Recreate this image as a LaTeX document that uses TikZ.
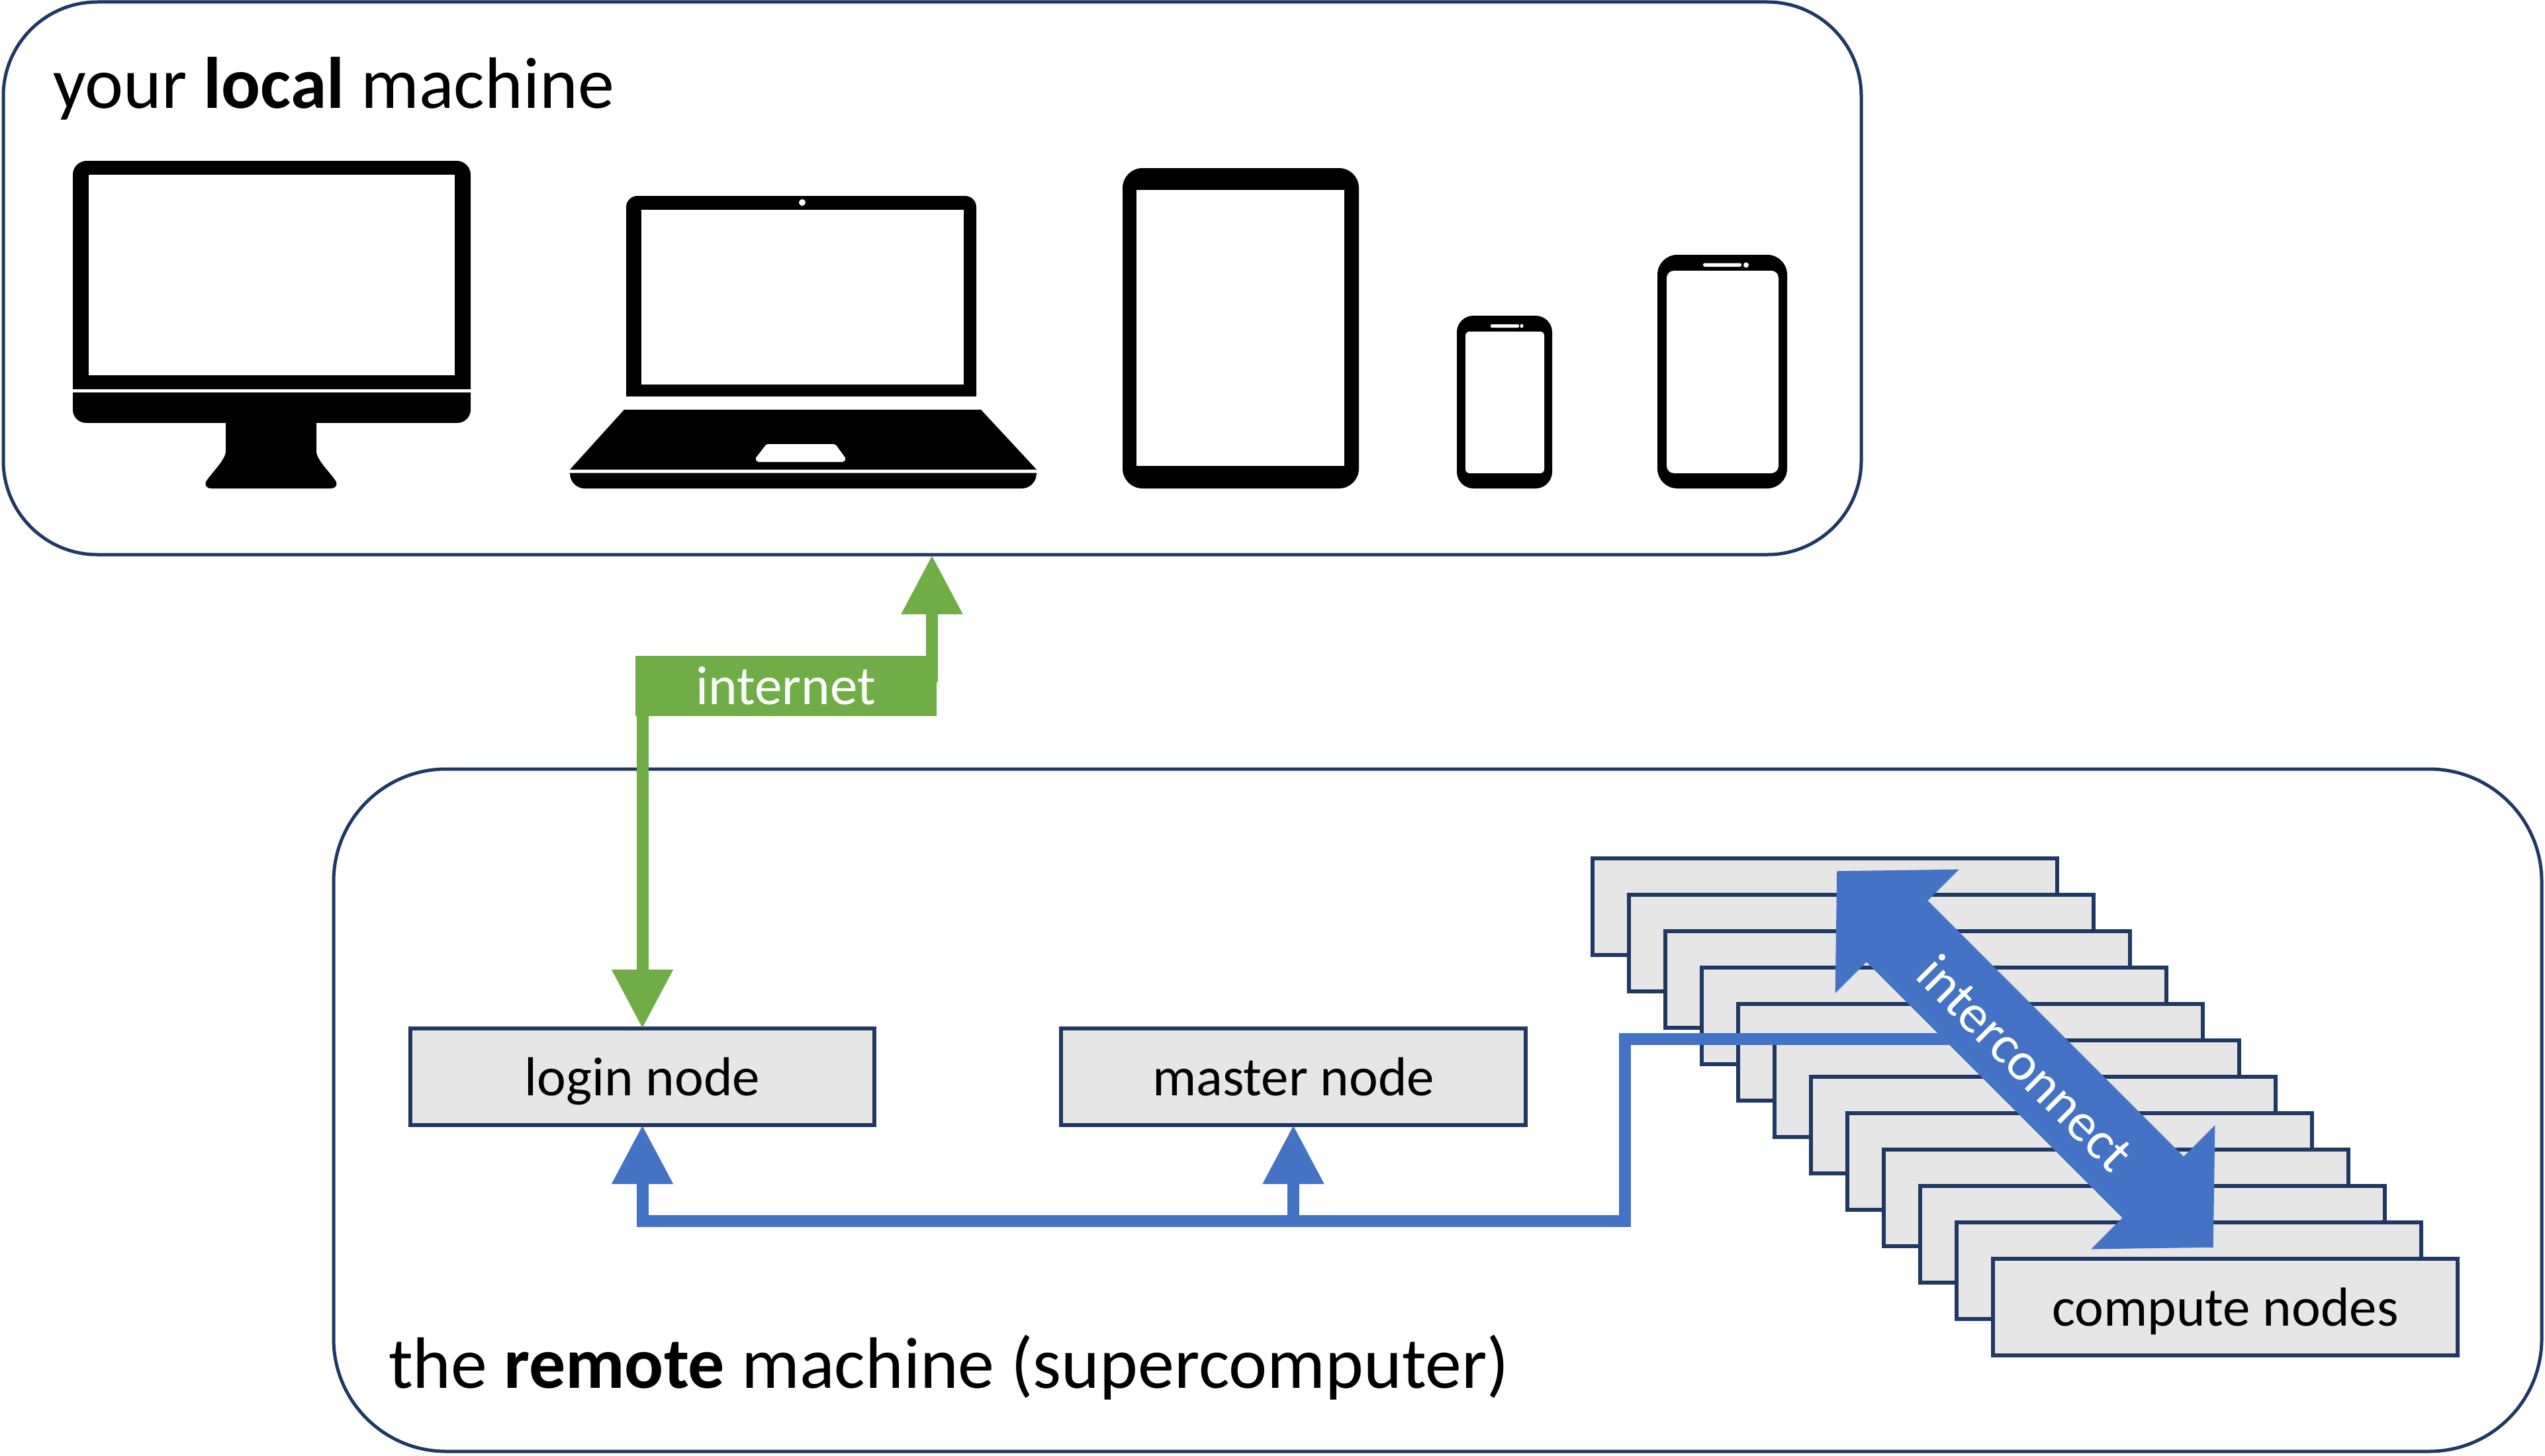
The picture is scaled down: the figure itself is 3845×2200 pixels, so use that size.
\documentclass[tikz,border=0pt]{standalone}
\usepackage{fontspec}
\setmainfont{Carlito}
\usetikzlibrary{arrows.meta}
\definecolor{navy}{HTML}{1F3864}
\definecolor{nodegray}{HTML}{E6E6E6}
\definecolor{netgreen}{HTML}{70AD47}
\definecolor{busblue}{HTML}{4472C4}
\newcommand{\fs}[1]{\fontsize{#1}{#1}\selectfont}
\tikzset{
  x=1pt,y=-1pt,
  panel/.style={draw=navy,line width=5pt,fill=white,outer sep=0pt,inner sep=0pt},
  labelfont/.style={font=\fs{83},text height=60pt,text depth=4pt},
  nodebox/.style={draw=navy,line width=5.5pt,fill=nodegray,outer sep=0pt,inner sep=0pt,minimum width=702pt,minimum height=146pt,labelfont},
  headline/.style={inner sep=0pt,outer sep=0pt,anchor=base west,font=\fs{110}},
  holefill/.style={fill=white,draw=none},
  greenarrow/.style={draw=netgreen,line width=18pt,-{Triangle[length=89pt,width=88pt]}},
  bluearrow/.style={draw=busblue,line width=18pt,-{Triangle[length=89pt,width=88pt]}},
  bluebus/.style={draw=busblue,line width=18pt,miter limit=10},
  bigarrow/.style={draw=busblue,line width=131pt,{Triangle[length=129pt,width=257pt]}-{Triangle[length=129pt,width=257pt]}},
}
\begin{document}
\begin{tikzpicture}
\useasboundingbox (0,0) rectangle (3845,2200);
\fill[white] (0,0) rectangle (3845,2200);

% panels
\node[panel,rounded corners=142pt,minimum width=2807pt,minimum height=835pt] (local) at (1408.5,420.5) {};
\node[panel,rounded corners=170pt,minimum width=3336pt,minimum height=1031pt] (remote) at (2172,1677.5) {};
\node[headline] (localtitle) at (80,163) {your \textbf{local} machine};
\node[headline] (remotetitle) at (587,2097) {the \textbf{remote} machine (supercomputer)};

% desktop monitor
\fill[black] (110,588) [rounded corners=21pt] -- (110,243) -- (711,243) [sharp corners] -- (711,588) -- cycle;
\fill[holefill] (134,264) rectangle (687,567);
\fill[black] (110,593) [rounded corners=20pt] -- (110,639) -- (711,639) [sharp corners] -- (711,593) -- cycle;
\fill[black] (341,630) -- (478,630) -- (478,682) .. controls (478,695) and (500,715) .. (508,728)
  .. controls (510,734) and (506,738) .. (500,738) -- (319,738) .. controls (313,738) and (309,734) .. (311,728)
  .. controls (319,715) and (341,695) .. (341,682) -- cycle;

% laptop
\fill[black] (946,599) [rounded corners=17pt] -- (946,296) -- (1475,296) [sharp corners] -- (1475,599) -- cycle;
\fill[holefill] (969,317) rectangle (1456,581);
\fill[holefill] (1212,306) ellipse [x radius=5,y radius=5];
\fill[black] (943,619) -- (1482,619) -- (1566,709.5) -- (861,709.5) -- cycle;
\fill[black] (861,714.5) [rounded corners=20pt] -- (863,738) -- (1564,738) [sharp corners] -- (1566,714.5) -- cycle;
\fill[holefill,rounded corners=2pt] (1158,671) -- (1262,671) -- (1278,693) -- (1275,698) -- (1144,698) -- (1141,693) -- cycle;

% tablet
\fill[black,rounded corners=30pt] (1696,254) rectangle (2053,738);
\fill[holefill] (1717,287) rectangle (2031,704);

% small phone
\fill[black,rounded corners=25pt] (2201,477) rectangle (2345,738);
\fill[holefill,rounded corners=6pt] (2214,501) rectangle (2333,715);
\fill[holefill,rounded corners=2pt] (2252,490) rectangle (2295,495);
\fill[holefill] (2299,492.5) ellipse [x radius=2.5,y radius=3];

% large phone
\fill[black,rounded corners=30pt] (2504,385) rectangle (2700,738);
\fill[holefill,rounded corners=11pt] (2518,409) rectangle (2687,715);
\fill[holefill,rounded corners=2.5pt] (2573,397.5) rectangle (2631,403);
\fill[holefill] (2638,400.5) ellipse [x radius=4,y radius=4];

% nodes
\node[nodebox,minimum width=701pt] (login) at (970.5,1627) {login node};
\node[nodebox] (master) at (1954,1627) {master node};
\foreach \i in {0,...,10} {
  \node[nodebox] (stack\i) at ({2757+55*\i},{1370+55*\i}) {};
}
\node[nodebox] (compute) at (3362,1975) {compute nodes};

% green connectors
\node[fill=netgreen,text=white,inner sep=0pt,outer sep=0pt,minimum width=455pt,minimum height=91pt,labelfont] (internet) at (1187.5,1036.5) {internet};
\coordinate (localport) at (1408,839);
\draw[greenarrow] (localport |- internet.north) ++(0,40) -- (localport);
\draw[greenarrow] (login.north |- internet.south) ++(0,-10) -- (login.north);

% blue connectors
\coordinate (busy) at (2454.5,1845);
\coordinate (riser) at (2454.5,1569.5);
\coordinate (bigstart) at (2775,1316);
\coordinate (bigend) at (3344,1885);
\draw[bluebus] (2960,1569.5) -- (riser) -- (busy) -- (login.south |- busy) -- ++(0,-30);
\draw[bluearrow] (login.south |- busy) -- (login.south);
\draw[bluearrow] (master.south |- busy) -- (master.south);
\draw[bigarrow] (bigstart) -- (bigend);
\node[text=white,rotate=-45,inner sep=0pt,font=\fs{82}] (interconnect) at (3060,1606) {interconnect};
\end{tikzpicture}
\end{document}
